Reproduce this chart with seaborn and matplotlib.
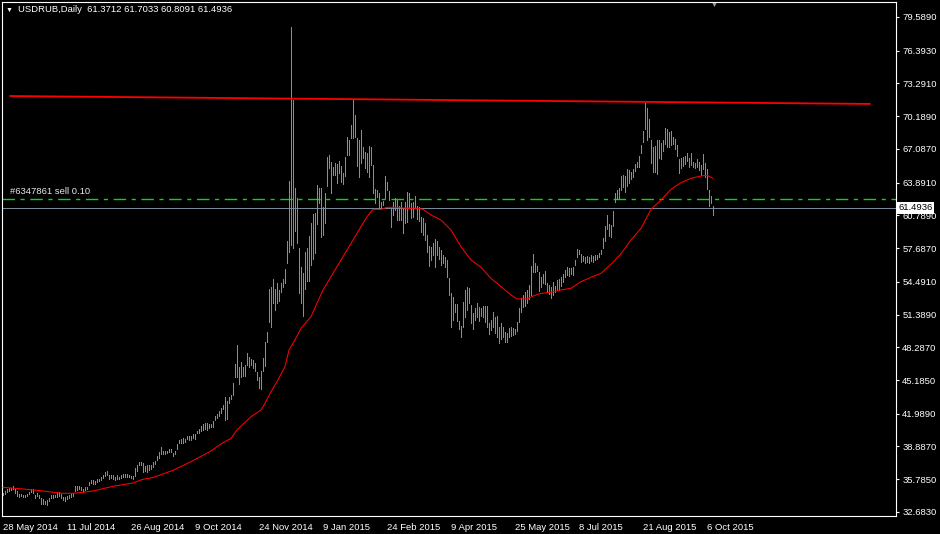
import numpy as np
import pandas as pd
import seaborn as sns
import matplotlib.pyplot as plt
from matplotlib import transforms

# daily bars USDRUB (high / low), one per trading day from 28 May 2014
highs = [
    34.52, 34.70, 34.86, 34.93, 34.99, 35.15, 34.89, 34.67, 34.36, 34.36,
    34.33, 34.33, 34.42, 34.61, 34.83, 34.83, 34.29, 34.48, 34.29, 34.04,
    33.91, 33.76, 33.82, 34.04, 34.29, 34.29, 34.29, 34.45, 34.58, 34.36,
    34.10, 34.07, 34.20, 34.29, 34.36, 34.45, 35.15, 35.15, 35.15, 35.08,
    34.89, 35.02, 35.08, 35.53, 35.75, 35.68, 35.62, 35.81, 35.84, 36.00,
    36.22, 36.44, 36.54, 36.16, 36.16, 36.22, 36.00, 36.16, 36.03, 36.19,
    36.29, 36.29, 36.29, 36.22, 36.13, 36.10, 36.82, 37.14, 37.45, 37.42,
    37.36, 37.07, 37.14, 37.14, 37.17, 37.45, 37.52, 37.96, 38.37, 38.84,
    38.47, 38.50, 38.50, 38.65, 38.65, 38.31, 38.50, 39.16, 39.51, 39.63,
    39.69, 39.60, 39.88, 39.88, 39.88, 40.07, 40.07, 40.39, 40.51, 40.83,
    41.02, 41.11, 41.11, 41.05, 41.02, 41.30, 41.78, 41.97, 42.22, 42.54,
    42.82, 43.61, 43.23, 43.61, 43.80, 44.87, 46.71, 48.48, 46.45, 46.90,
    46.45, 46.64, 47.72, 47.37, 47.21, 47.05, 46.83, 45.95, 45.51, 46.08,
    47.28, 48.82, 49.74, 53.85, 54.04, 54.73, 53.78, 54.41, 53.72, 54.35,
    54.79, 55.74, 58.40, 64.05, 78.67, 71.72, 63.35, 62.41, 57.67, 55.93,
    55.30, 57.29, 57.67, 58.84, 60.10, 60.89, 60.98, 63.67, 63.42, 63.35,
    61.62, 62.88, 66.35, 66.51, 65.88, 65.40, 65.79, 65.66, 65.94, 65.47,
    64.77, 66.35, 68.25, 67.93, 69.35, 71.72, 70.30, 68.09, 67.93, 68.88,
    67.30, 66.80, 66.73, 67.37, 67.30, 65.56, 63.26, 63.20, 62.88, 62.09,
    62.15, 64.52, 63.98, 63.13, 61.46, 62.09, 62.41, 62.25, 61.68, 62.03,
    61.36, 62.09, 63.04, 62.94, 62.00, 62.09, 62.63, 61.68, 61.62, 60.67,
    60.51, 60.04, 58.93, 57.92, 57.83, 58.14, 58.58, 58.39, 57.83, 57.48,
    57.04, 56.88, 56.56, 54.90, 53.47, 53.09, 52.39, 52.39, 50.81, 50.31,
    52.61, 53.72, 53.97, 53.88, 52.30, 51.51, 51.98, 52.52, 52.14, 51.98,
    52.20, 52.20, 52.20, 50.62, 50.88, 51.67, 51.19, 51.26, 50.24, 50.56,
    50.24, 49.77, 49.68, 50.09, 50.24, 50.09, 49.99, 50.72, 51.98, 52.93,
    53.25, 53.56, 53.72, 54.19, 55.99, 57.13, 56.31, 55.99, 55.46, 54.98,
    55.24, 55.55, 54.35, 54.19, 53.97, 54.51, 54.10, 54.67, 54.73, 54.98,
    55.24, 55.62, 55.87, 55.77, 55.77, 55.87, 56.56, 57.57, 57.51, 57.13,
    56.94, 56.81, 56.94, 56.81, 57.04, 56.94, 57.04, 57.04, 57.19, 57.54,
    58.66, 59.78, 60.83, 60.00, 59.92, 61.24, 62.95, 63.23, 63.40, 64.52,
    64.62, 64.52, 65.15, 65.09, 64.93, 65.15, 65.66, 65.88, 66.42, 67.46,
    68.82, 71.47, 70.93, 69.89, 67.93, 67.30, 67.37, 67.93, 67.93, 67.62,
    67.93, 69.04, 68.94, 68.72, 68.82, 68.19, 68.00, 67.46, 66.10, 66.20,
    66.35, 66.42, 66.67, 66.20, 66.67, 65.88, 65.79, 66.10, 65.88, 65.56,
    66.61, 65.79, 65.15, 63.20, 62.63, 61.7033,
]
lows = [
    34.30, 34.42, 34.61, 34.70, 34.77, 34.89, 34.52, 34.20, 34.10, 34.17,
    34.14, 34.10, 34.20, 34.36, 34.58, 34.48, 34.04, 34.23, 33.98, 33.47,
    33.47, 33.47, 33.38, 33.72, 34.04, 34.01, 34.07, 34.14, 34.17, 34.04,
    33.79, 33.69, 33.91, 34.04, 34.10, 34.20, 34.70, 34.77, 34.89, 34.77,
    34.58, 34.77, 34.83, 35.21, 35.40, 35.34, 35.31, 35.56, 35.59, 35.72,
    35.91, 36.06, 36.16, 35.84, 35.87, 35.81, 35.68, 35.84, 35.78, 35.91,
    35.97, 36.00, 36.00, 35.97, 35.87, 35.81, 36.13, 36.60, 37.11, 37.14,
    36.47, 36.60, 36.51, 36.66, 36.79, 36.98, 37.20, 37.61, 37.77, 38.15,
    38.15, 38.18, 38.31, 38.34, 38.40, 38.02, 38.18, 38.62, 39.26, 39.19,
    39.25, 39.31, 39.57, 39.50, 39.54, 39.69, 39.60, 40.14, 40.20, 40.36,
    40.45, 40.51, 40.45, 40.64, 40.70, 40.74, 41.40, 41.62, 41.78, 42.06,
    42.41, 41.40, 41.49, 43.04, 43.36, 43.77, 45.51, 45.51, 44.81, 45.44,
    45.57, 45.57, 46.58, 46.42, 46.58, 46.33, 46.08, 45.19, 44.40, 44.31,
    46.04, 46.52, 48.79, 50.72, 50.25, 52.46, 51.82, 52.46, 52.71, 53.53,
    54.04, 54.35, 56.30, 57.35, 57.98, 57.67, 59.34, 58.20, 53.40, 52.52,
    51.26, 53.81, 54.60, 54.60, 56.09, 56.62, 57.20, 59.94, 62.00, 58.77,
    58.93, 60.04, 63.57, 65.25, 62.94, 64.62, 64.62, 63.83, 64.77, 63.98,
    63.73, 64.52, 66.51, 66.51, 68.09, 68.09, 68.25, 65.47, 64.40, 65.72,
    66.20, 65.25, 64.93, 64.40, 65.56, 62.88, 61.93, 62.50, 61.40, 61.62,
    61.78, 62.41, 63.20, 62.25, 59.72, 60.83, 61.30, 60.35, 60.35, 60.35,
    59.15, 60.04, 60.19, 61.46, 60.51, 60.67, 61.46, 60.42, 60.29, 59.25,
    58.93, 58.46, 57.29, 55.99, 56.56, 57.04, 55.86, 57.04, 56.62, 56.12,
    56.31, 55.87, 54.92, 53.25, 50.18, 50.88, 51.67, 50.81, 49.99, 49.23,
    50.24, 51.19, 51.82, 52.46, 50.56, 49.99, 50.88, 51.13, 50.81, 51.26,
    51.13, 50.72, 50.24, 49.55, 49.93, 50.24, 49.61, 49.30, 48.73, 49.04,
    49.23, 48.82, 48.82, 49.30, 49.36, 49.45, 49.55, 49.87, 50.72, 51.67,
    52.14, 52.20, 52.46, 52.83, 53.25, 55.46, 55.46, 55.55, 53.66, 53.97,
    54.35, 54.29, 53.56, 53.34, 52.93, 53.25, 53.56, 53.72, 53.72, 54.10,
    54.51, 54.92, 55.14, 55.05, 55.24, 55.14, 56.09, 56.88, 57.13, 56.40,
    56.50, 56.25, 56.40, 56.31, 56.50, 56.40, 56.56, 56.62, 56.81, 57.13,
    57.67, 58.36, 59.53, 58.85, 58.71, 59.78, 62.09, 62.36, 62.45, 63.20,
    63.45, 63.04, 63.57, 63.89, 64.21, 64.40, 65.03, 65.34, 65.41, 66.67,
    67.78, 68.94, 67.93, 68.25, 65.72, 64.93, 64.93, 64.71, 66.20, 66.10,
    66.92, 67.56, 67.30, 67.24, 67.46, 67.56, 67.05, 66.42, 64.77, 65.25,
    65.47, 65.66, 65.98, 65.41, 65.56, 65.34, 65.25, 65.34, 65.09, 64.62,
    65.15, 64.40, 63.26, 61.68, 61.93, 60.8091,
]

# moving average (red), read at some bar positions
ma_idx = [0, 10, 20, 25, 30, 35, 40, 45, 50, 55, 60, 65, 70, 75, 80, 85, 94,
          104, 109, 114, 117, 124, 129, 131, 134, 137, 141, 143, 146, 149, 154,
          157, 160, 164, 169, 174, 179, 182, 185, 189, 192, 197, 202, 207, 210,
          214, 219, 224, 229, 234, 239, 244, 249, 254, 257, 262, 265, 269, 274,
          279, 284, 289, 294, 299, 304, 309, 314, 319, 324, 329, 334, 339, 344,
          349, 352, 355]
ma_vals = [35.02, 34.86, 34.67, 34.55, 34.45, 34.45, 34.55, 34.67, 34.89, 35.12,
           35.27, 35.43, 35.78, 35.94, 36.28, 36.63, 37.45, 38.46, 39.13, 39.66,
           40.45, 41.71, 42.35, 42.98, 44.08, 45.03, 46.45, 48.03, 48.98, 50.09,
           51.19, 52.46, 53.72, 54.98, 56.56, 58.14, 59.72, 60.67, 61.36, 61.36,
           61.55, 61.55, 61.46, 61.46, 61.36, 60.83, 60.35, 59.40, 57.82, 56.56,
           55.87, 54.82, 54.04, 53.25, 52.87, 52.87, 53.15, 53.40, 53.50, 53.72,
           53.88, 54.51, 54.92, 55.30, 56.15, 57.15, 58.46, 59.56, 61.36, 62.25,
           63.26, 63.89, 64.30, 64.52, 64.59, 64.30]

# resistance trend line (two anchors)
trend_idx = [3.5, 433.5]
trend_vals = [72.10, 71.35]

order_price = 62.343
bid = 61.4936

ytick_vals = [32.6830, 35.7850, 38.8870, 41.9890, 45.1850, 48.2870, 51.3890,
              54.4910, 57.6870, 60.7890, 63.8910, 67.0870, 70.1890, 73.2910,
              76.3930, 79.5890]
xtick_labels = ["28 May 2014", "11 Jul 2014", "26 Aug 2014", "9 Oct 2014",
                "24 Nov 2014", "9 Jan 2015", "24 Feb 2015", "9 Apr 2015",
                "25 May 2015", "8 Jul 2015", "21 Aug 2015", "6 Oct 2015"]

bars = pd.DataFrame({"i": np.arange(len(highs)), "high": highs, "low": lows})

sns.set_theme(style="dark", rc={"axes.facecolor": "black",
                                "figure.facecolor": "black",
                                "axes.edgecolor": "white",
                                "axes.grid": False})
plt.rcParams['font.family'] = ['Liberation Sans', 'DejaVu Sans']
plt.rcParams['font.size'] = 6.8

W, H = 940, 534
fig = plt.figure(figsize=(W / 100, H / 100), dpi=100)
ax = fig.add_axes([2 / W, 1 - 516 / H, 894 / W, 514 / H])
ax.set_xlim(-0.5, 446.5)
ax.set_ylim(32.30, 81.01)

# bars: plain 1px high-low strokes like the terminal draws them
ax.vlines(bars["i"], bars["low"], bars["high"], colors="#32cd32",
          linewidth=0.5, antialiased=False, zorder=3)
sns.lineplot(x=ma_idx, y=ma_vals, color="#ff0000", linewidth=0.75,
             sort=False, estimator=None, ax=ax, zorder=4)
sns.lineplot(x=trend_idx, y=trend_vals, color="#ff0000", linewidth=1.3,
             sort=False, estimator=None, ax=ax, zorder=4)
ax.axhline(order_price, color="#00dd00", lw=1.0,
           linestyle=(0, (9, 4, 3, 4)), zorder=2)
ax.axhline(bid, color="#778899", lw=0.72, antialiased=False, zorder=2)

# axes / ticks
for s in ax.spines.values():
    s.set_color("white")
    s.set_linewidth(0.8)
ax.yaxis.tick_right()
ax.set_yticks(ytick_vals)
ax.set_yticklabels([f"{v:.4f}" for v in ytick_vals])
ax.set_xticks(np.arange(0, 32 * len(xtick_labels), 32))
ax.set_xticklabels(xtick_labels)
for lbl in ax.get_xticklabels():
    lbl.set_ha("left")
ax.tick_params(axis="both", direction="out", length=2.5, width=0.8,
               color="white", labelcolor="white", labelsize=6.8)
ax.tick_params(axis="y", pad=2)
ax.tick_params(axis="x", pad=2.5)
ax.set_xlabel("")
ax.set_ylabel("")

# bid price box on the right axis
trans = transforms.blended_transform_factory(ax.transAxes, ax.transData)
ax.text(1.0025, bid, "61.4936", transform=trans, ha="left", va="center",
        color="black", fontsize=6.8, clip_on=False, zorder=10,
        bbox=dict(boxstyle="square,pad=0.2", fc="white", ec="none"))

# header and labels
fig.text(9 / W, 1 - 10 / H, "\u25bc", color="white", fontsize=5,
         ha="center", va="center")
fig.text(18 / W, 1 - 10 / H, "USDRUB,Daily  61.3712 61.7033 60.8091 61.4936",
         color="white", ha="left", va="center")
fig.text(10 / W, 1 - 192 / H, "#6347861 sell 0.10", color="#e8e8e8",
         ha="left", va="center")
fig.text(714 / W, 1 - 5 / H, "\u25bc", color="#9a9a9a", fontsize=5,
         ha="center", va="center")

fig.savefig("out.png", dpi=100, facecolor="black")
